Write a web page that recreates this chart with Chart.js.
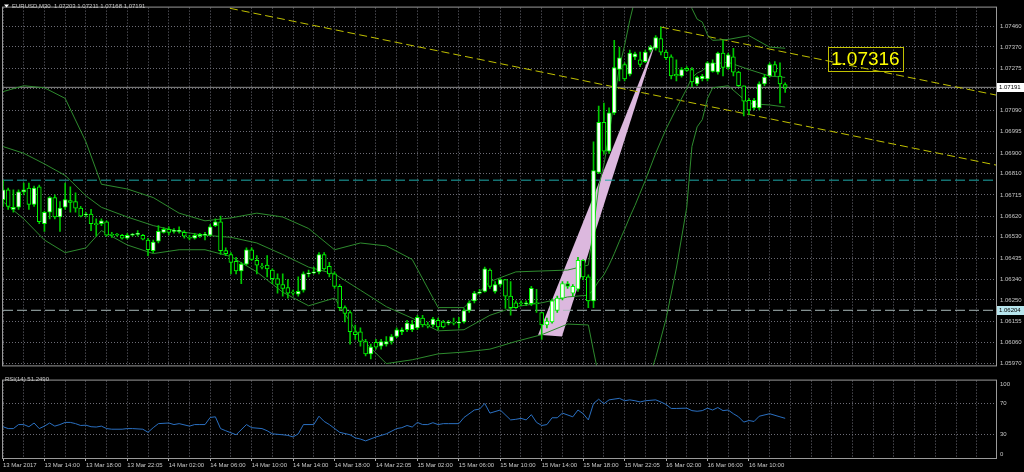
<!DOCTYPE html>
<html>
<head>
<meta charset="utf-8">
<script src="https://cdn.jsdelivr.net/npm/chart.js@4.4.0/dist/chart.umd.min.js"></script>
<style>
html, body { margin: 0; padding: 0; background: #000; }
#wrap { position: relative; width: 1024px; height: 472px; background: #000; overflow: hidden; }
canvas { position: absolute; left: 0; }
#main { top: 0; }
#rsi { top: 373px; }
</style>
</head>
<body>
<div id="wrap">
  <canvas id="main" width="1024" height="373"></canvas>
  <canvas id="rsi" width="1024" height="99"></canvas>
</div>
<script>
// EURUSD M30, bar 0 = 13 Mar 2017 10:00
const open = [
  1.06694,1.06737,1.06651,1.06660,1.06728,1.06745,1.06673,1.06750,1.06587,1.06638,
  1.06703,1.06617,1.06660,1.06690,1.06685,1.06656,1.06626,1.06630,1.06587,1.06587,
  1.06596,1.06540,1.06540,1.06536,1.06523,1.06536,1.06540,1.06536,1.06515,1.06468,
  1.06510,1.06549,1.06562,1.06553,1.06553,1.06549,1.06527,1.06523,1.06532,1.06536,
  1.06536,1.06579,1.06596,1.06468,1.06451,1.06421,1.06378,1.06408,1.06472,1.06425,
  1.06399,1.06404,1.06382,1.06344,1.06318,1.06305,1.06284,1.06275,1.06293,1.06365,
  1.06369,1.06374,1.06451,1.06399,1.06365,1.06310,1.06216,1.06194,1.06109,1.06109,
  1.06066,1.06011,1.06062,1.06045,1.06054,1.06066,1.06088,1.06109,1.06118,1.06118,
  1.06126,1.06169,1.06139,1.06139,1.06160,1.06152,1.06147,1.06152,1.06147,1.06152,
  1.06203,1.06246,1.06280,1.06288,1.06382,1.06288,1.06318,1.06340,1.06267,1.06237,
  1.06237,1.06233,1.06233,1.06237,1.06194,1.06139,1.06152,1.06203,1.06258,1.06322,
  1.06280,1.06297,1.06425,1.06352,1.06246,1.06814,1.07036,1.06908,1.07078,1.07270,
  1.07292,1.07249,1.07326,1.07313,1.07305,1.07356,1.07364,1.07407,1.07347,1.07326,
  1.07249,1.07241,1.07275,1.07270,1.07206,1.07228,1.07228,1.07262,1.07258,1.07343,
  1.07279,1.07326,1.07258,1.07198,1.07134,1.07100,1.07100,1.07206,1.07241,1.07292,
  1.07241,1.07203
];
const high = [
  1.06779,1.06745,1.06737,1.06737,1.06767,1.06767,1.06754,1.06758,1.06643,1.06707,
  1.06715,1.06685,1.06767,1.06750,1.06724,1.06664,1.06638,1.06651,1.06609,1.06609,
  1.06600,1.06549,1.06545,1.06540,1.06545,1.06545,1.06557,1.06540,1.06523,1.06515,
  1.06579,1.06570,1.06574,1.06566,1.06574,1.06557,1.06536,1.06545,1.06545,1.06549,
  1.06583,1.06609,1.06621,1.06480,1.06459,1.06438,1.06416,1.06480,1.06480,1.06446,
  1.06412,1.06446,1.06387,1.06365,1.06365,1.06340,1.06293,1.06352,1.06374,1.06382,
  1.06395,1.06459,1.06459,1.06416,1.06374,1.06318,1.06224,1.06203,1.06139,1.06126,
  1.06075,1.06054,1.06075,1.06075,1.06088,1.06096,1.06126,1.06126,1.06160,1.06160,
  1.06182,1.06182,1.06152,1.06173,1.06169,1.06160,1.06160,1.06169,1.06173,1.06212,
  1.06246,1.06288,1.06297,1.06395,1.06387,1.06331,1.06344,1.06340,1.06331,1.06246,
  1.06246,1.06246,1.06310,1.06297,1.06194,1.06169,1.06254,1.06267,1.06331,1.06331,
  1.06318,1.06438,1.06429,1.06361,1.06950,1.07108,1.07121,1.07100,1.07399,1.07369,
  1.07300,1.07356,1.07347,1.07347,1.07356,1.07377,1.07420,1.07458,1.07356,1.07335,
  1.07313,1.07279,1.07283,1.07279,1.07241,1.07249,1.07305,1.07313,1.07347,1.07399,
  1.07343,1.07364,1.07262,1.07198,1.07142,1.07142,1.07215,1.07249,1.07300,1.07305,
  1.07300,1.07211
];
const low = [
  1.06664,1.06651,1.06638,1.06651,1.06715,1.06651,1.06664,1.06587,1.06553,1.06609,
  1.06609,1.06553,1.06651,1.06638,1.06638,1.06617,1.06617,1.06557,1.06532,1.06579,
  1.06532,1.06527,1.06532,1.06519,1.06519,1.06532,1.06532,1.06515,1.06446,1.06459,
  1.06502,1.06545,1.06536,1.06545,1.06545,1.06523,1.06515,1.06519,1.06527,1.06515,
  1.06532,1.06574,1.06451,1.06446,1.06365,1.06365,1.06322,1.06404,1.06425,1.06365,
  1.06387,1.06352,1.06322,1.06280,1.06267,1.06258,1.06271,1.06267,1.06284,1.06352,
  1.06365,1.06365,1.06382,1.06352,1.06301,1.06203,1.06152,1.06054,1.06075,1.06045,
  1.06002,1.05989,1.06032,1.06032,1.06045,1.06054,1.06083,1.06096,1.06109,1.06109,
  1.06118,1.06130,1.06126,1.06130,1.06118,1.06126,1.06139,1.06139,1.06126,1.06147,
  1.06194,1.06237,1.06275,1.06284,1.06301,1.06280,1.06310,1.06212,1.06182,1.06212,
  1.06224,1.06224,1.06224,1.06194,1.06075,1.06126,1.06147,1.06194,1.06250,1.06301,
  1.06267,1.06288,1.06340,1.06216,1.06216,1.06809,1.06895,1.06899,1.07070,1.07219,
  1.07219,1.07241,1.07313,1.07283,1.07300,1.07347,1.07356,1.07335,1.07313,1.07228,
  1.07219,1.07236,1.07262,1.07194,1.07198,1.07219,1.07219,1.07258,1.07249,1.07241,
  1.07270,1.07241,1.07194,1.07065,1.07070,1.07091,1.07091,1.07198,1.07236,1.07241,
  1.07121,1.07168
];
const close = [
  1.06737,1.06664,1.06660,1.06728,1.06737,1.06673,1.06745,1.06596,1.06638,1.06703,
  1.06617,1.06656,1.06694,1.06681,1.06656,1.06621,1.06630,1.06587,1.06583,1.06600,
  1.06536,1.06536,1.06536,1.06523,1.06536,1.06540,1.06545,1.06519,1.06472,1.06506,
  1.06553,1.06562,1.06549,1.06557,1.06557,1.06532,1.06523,1.06536,1.06540,1.06540,
  1.06574,1.06596,1.06468,1.06455,1.06416,1.06378,1.06408,1.06472,1.06429,1.06404,
  1.06395,1.06387,1.06344,1.06318,1.06301,1.06280,1.06280,1.06288,1.06365,1.06369,
  1.06374,1.06451,1.06387,1.06365,1.06310,1.06216,1.06190,1.06109,1.06096,1.06066,
  1.06011,1.06041,1.06041,1.06066,1.06066,1.06088,1.06118,1.06118,1.06147,1.06143,
  1.06173,1.06139,1.06135,1.06165,1.06130,1.06130,1.06152,1.06147,1.06152,1.06203,
  1.06237,1.06280,1.06284,1.06387,1.06310,1.06318,1.06340,1.06267,1.06216,1.06216,
  1.06233,1.06237,1.06301,1.06233,1.06139,1.06156,1.06246,1.06258,1.06322,1.06310,
  1.06310,1.06425,1.06352,1.06246,1.06822,1.07036,1.06908,1.07078,1.07279,1.07322,
  1.07228,1.07343,1.07339,1.07292,1.07347,1.07369,1.07411,1.07347,1.07322,1.07241,
  1.07241,1.07270,1.07266,1.07215,1.07236,1.07241,1.07300,1.07300,1.07343,1.07279,
  1.07335,1.07258,1.07198,1.07130,1.07091,1.07134,1.07206,1.07236,1.07292,1.07258,
  1.07206,1.07191
];

// Bollinger bands (20, 2) at these bars
const bbBars = [0,4,8,12,16,19,24,29,34,39,44,49,54,59,64,69,74,79,84,89,94,99,104,109,113,
  114,115,116,117,118,119,120,121,122,124,126,128,130,132,133,134,135,136,137,140,144,148,151];
const bbUpper = [1.07172,1.07198,1.07189,1.07142,1.06950,1.06762,1.06741,1.06703,1.06634,1.06600,
  1.06613,1.06634,1.06617,1.06566,1.06472,1.06502,1.06489,1.06429,1.06216,1.06216,1.06331,1.06374,
  1.06378,1.06382,1.06404,1.06570,1.06750,1.06848,1.06980,1.07138,1.07279,1.07377,1.07488,1.07582,
  1.07706,1.07804,1.07847,1.07804,1.07710,1.07540,1.07493,1.07480,1.07424,1.07399,1.07403,1.07420,
  1.07369,1.07364];
const bbMiddle = [1.06929,1.06899,1.06852,1.06801,1.06711,1.06660,1.06617,1.06579,1.06553,1.06536,
  1.06527,1.06502,1.06451,1.06395,1.06365,1.06293,1.06220,1.06169,1.06113,1.06118,1.06182,1.06220,
  1.06237,1.06263,1.06271,1.06297,1.06333,1.06361,1.06404,1.06455,1.06510,1.06562,1.06617,1.06668,
  1.06779,1.06899,1.07006,1.07098,1.07185,1.07234,1.07254,1.07265,1.07284,1.07295,1.07302,1.07270,
  1.07241,1.07235];
const bbLower = [1.06685,1.06609,1.06515,1.06459,1.06480,1.06557,1.06493,1.06455,1.06472,1.06472,
  1.06442,1.06374,1.06284,1.06224,1.06258,1.06083,1.05968,1.05985,1.06011,1.06019,1.06032,1.06066,
  1.06096,1.06143,1.06139,1.06024,1.05913,1.05874,1.05827,1.05772,1.05742,1.05746,1.05746,1.05755,
  1.05853,1.05994,1.06165,1.06391,1.06660,1.06929,1.07016,1.07048,1.07142,1.07189,1.07198,1.07119,
  1.07113,1.07104];

// RSI(14)
const rsiBars = [0,1,2,3,4,5,6,7,8,9,10,11,12,13,14,15,16,17,18,19,20,21,23,24,25,27,28,29,30,32,33,34,
  36,37,38,39,40,41,42,43,45,47,48,50,51,52,54,55,56,57,58,60,61,62,63,65,67,68,69,70,72,73,74,76,77,
  78,79,80,81,82,83,84,85,86,88,89,91,92,93,94,96,98,99,100,101,102,103,104,105,106,107,108,110,111,
  112,113,114,115,116,117,119,120,121,122,123,124,126,127,128,129,130,132,133,134,135,136,137,138,139,
  140,141,142,143,144,145,146,148,150,151];
const rsiValues = [40.4,38.0,38.0,43.2,43.2,40.4,45.2,38.0,41.2,45.2,41.2,43.2,46.0,46.0,44.4,42.0,42.4,
  40.4,40.0,41.2,38.0,37.2,37.2,38.0,38.0,37.2,33.2,39.2,44.4,45.2,43.2,44.4,41.2,43.2,43.2,43.2,52.4,
  53.2,38.0,35.2,30.0,43.2,39.2,38.0,35.2,31.2,30.0,29.2,27.2,31.2,43.2,43.2,54.0,47.2,43.2,33.2,30.0,
  26.0,24.5,22.1,27.2,29.2,31.2,38.0,39.2,42.0,40.0,46.0,43.2,43.2,45.6,43.2,44.4,44.4,44.4,52.4,62.0,
  63.2,70.4,58.0,62.0,49.2,50.0,51.2,49.2,56.0,46.0,42.0,43.2,52.0,52.0,58.0,53.2,62.0,57.2,49.2,70.4,
  76.0,70.0,75.1,77.1,74.0,75.1,74.0,72.4,74.0,75.1,72.4,69.2,64.0,64.0,64.4,61.2,60.4,61.2,64.4,62.0,
  65.2,61.2,62.0,57.2,53.2,46.4,48.4,47.2,54.0,57.2,53.2,51.249];
const rsiTicks = [70, 30];

// axes
const timeLabels = ['13 Mar 2017','13 Mar 14:00','13 Mar 18:00','13 Mar 22:05','14 Mar 02:00',
  '14 Mar 06:00','14 Mar 10:00','14 Mar 14:00','14 Mar 18:00','14 Mar 22:05','15 Mar 02:00',
  '15 Mar 06:00','15 Mar 10:00','15 Mar 14:00','15 Mar 18:00','15 Mar 22:05','16 Mar 02:00',
  '16 Mar 06:00','16 Mar 10:00'];
const priceTicks = [1.07460,1.07370,1.07275,1.07185,1.07090,1.06995,1.06900,1.06810,1.06715,1.06620,
  1.06530,1.06435,1.06340,1.06250,1.06155,1.06060,1.05970];
const priceTickLabels = ['1.07460','1.07370','1.07275','','1.07090','1.06995','1.06900','1.06810',
  '1.06715','1.06620','1.06530','1.06435','1.06340','1.06250','1.06155','1.06060','1.05970'];

// objects on the chart
const trendABars = [43.8, 191.7], trendAPrices = [1.07541, 1.06847];
const trendBBars = [127, 191.7], trendBPrices = [1.07458, 1.07157];
const triBars = [103.3, 107.9, 126.4], triPrices = [1.06096, 1.06088, 1.07420];
const cyanLevel = 1.06780, greyLevel = 1.06204;
const boxBar = 159.3, boxPrice = 1.07316;

const xMin = 0, xMax = 191.7;
const yMin = 1.05960, yMax = 1.07544;

Chart.defaults.font.family = '"Liberation Sans", Arial, sans-serif';
Chart.defaults.font.size = 6;
Chart.defaults.color = '#c8c8c8';

const GRID = '#6c6c76';
const FRAME = '#9a9a9a';
const BAND = '#2e8b2e';
const YELLOW = '#c0c000';

const last = close.length - 1;
const bidPrice = close[last];
const bars = close.map((_, i) => i);
const bodies = bars.map(i => ({x: i, y: [open[i], close[i]]}));
const wicks = bars.map(i => ({x: i, y: [low[i], high[i]]}));
const bodyFill = bars.map(i => close[i] >= open[i] ? '#ffffff' : '#000000');

function series(xs, ys) { return xs.map((b, k) => ({x: b, y: ys[k]})); }
function hline(level) { return [{x: xMin, y: level}, {x: xMax, y: level}]; }
function lineDs(data, color, dash) {
    return {type: 'line', data: data, borderColor: color, borderWidth: 1, borderDash: dash || [],
        pointRadius: 0, fill: false, tension: 0};
}
function barTicks(scale) {
    const t = [];
    for (let b = 0; b <= xMax; b += 4) t.push({value: b});
    scale.ticks = t;
}

const markers = [
    {price: bidPrice, bg: '#ffffff'},
    {price: greyLevel, bg: '#b8e6ee'}
];

const mainDecor = {
    id: 'mainDecor',
    beforeDatasetsDraw(chart) {
        const {ctx, chartArea: a, scales: {x, y}} = chart;
        ctx.save();
        ctx.beginPath();
        ctx.rect(a.left, a.top, a.right - a.left, a.bottom - a.top);
        ctx.clip();
        ctx.beginPath();
        triBars.forEach((b, k) => {
            const px = x.getPixelForValue(b), py = y.getPixelForValue(triPrices[k]);
            if (k) ctx.lineTo(px, py); else ctx.moveTo(px, py);
        });
        ctx.closePath();
        ctx.fillStyle = 'rgb(220,184,222)';
        ctx.fill();
        ctx.restore();
    },
    afterDraw(chart) {
        const {ctx, chartArea: a, scales: {x, y}} = chart;
        ctx.save();
        ctx.strokeStyle = FRAME;
        ctx.lineWidth = 1;
        ctx.strokeRect(a.left - 0.5, a.top - 0.5, a.right - a.left + 1, a.bottom - a.top + 1);

        ctx.font = '6px "Liberation Sans", Arial, sans-serif';
        ctx.textBaseline = 'middle';
        markers.forEach(m => {
            const py = Math.round(y.getPixelForValue(m.price));
            ctx.fillStyle = m.bg;
            ctx.fillRect(a.right + 1, py - 4, chart.width - a.right - 1, 9);
            ctx.fillStyle = '#000000';
            ctx.fillText(m.price.toFixed(5), a.right + 3, py + 0.5);
        });

        // header
        ctx.fillStyle = '#ffffff';
        ctx.beginPath();
        ctx.moveTo(4, 4.5); ctx.lineTo(9, 4.5); ctx.lineTo(6.5, 7.5); ctx.closePath();
        ctx.fill();
        const header = 'EURUSD,M30  ' + [open[last], high[last], low[last], close[last]].map(v => v.toFixed(5)).join(' ');
        ctx.fillStyle = '#c8c8c8';
        ctx.fillText(header, 12, 6.5);

        // price label on the channel line
        const bx = Math.round(x.getPixelForValue(boxBar));
        const by = Math.round(y.getPixelForValue(boxPrice));
        ctx.font = '19px "Liberation Sans", Arial, sans-serif';
        const label = boxPrice.toFixed(5);
        const w = Math.round(ctx.measureText(label).width) + 6;
        ctx.strokeStyle = YELLOW;
        ctx.strokeRect(bx + 0.5, by - 12 + 0.5, w, 24);
        ctx.fillStyle = '#ffff00';
        ctx.fillText(label, bx + 3, by + 1);
        ctx.restore();
    }
};

const rsiDecor = {
    id: 'rsiDecor',
    afterDraw(chart) {
        const {ctx, chartArea: a, scales: {y}} = chart;
        ctx.save();
        ctx.strokeStyle = FRAME;
        ctx.lineWidth = 1;
        ctx.strokeRect(a.left - 0.5, a.top - 0.5, a.right - a.left + 1, a.bottom - a.top + 1);
        ctx.font = '6px "Liberation Sans", Arial, sans-serif';
        ctx.textBaseline = 'middle';
        ctx.fillStyle = '#c8c8c8';
        ctx.fillText('RSI(14) ' + rsiValues[rsiValues.length - 1].toFixed(4), 5, 6.5);
        ctx.fillText('100', a.right + 4, y.getPixelForValue(100) + 3.5);
        ctx.fillText('0', a.right + 4, y.getPixelForValue(0) - 3.5);
        ctx.restore();
    }
};

new Chart(document.getElementById('main'), {
    type: 'bar',
    data: {
        datasets: [
            {type: 'bar', data: bodies, backgroundColor: bodyFill, borderColor: '#00ff00', borderWidth: 1,
                borderSkipped: false, barThickness: 4, minBarLength: 1, grouped: false},
            {type: 'bar', data: wicks, backgroundColor: '#00c800', borderWidth: 0, barThickness: 1, grouped: false},
            lineDs(series(bbBars, bbUpper), BAND),
            lineDs(series(bbBars, bbMiddle), BAND),
            lineDs(series(bbBars, bbLower), BAND),
            lineDs(series(trendABars, trendAPrices), YELLOW, [8, 4]),
            lineDs(series(trendBBars, trendBPrices), YELLOW, [8, 4]),
            lineDs(hline(bidPrice), '#8c8c8c'),
            lineDs(hline(greyLevel), '#a8b8b8', [10, 4]),
            lineDs(hline(cyanLevel), '#1ea8a8', [10, 4])
        ]
    },
    options: {
        responsive: false,
        animation: false,
        devicePixelRatio: 1,
        layout: {padding: {left: 3, top: 1, right: 0, bottom: 1}},
        plugins: {legend: {display: false}, tooltip: {enabled: false}},
        scales: {
            x: {
                type: 'linear', min: xMin, max: xMax, offset: false,
                afterBuildTicks: barTicks,
                afterFit: s => { s.height = 0; },
                ticks: {display: false},
                grid: {color: GRID, drawTicks: false, offset: false},
                border: {display: false, dash: [1, 2]}
            },
            y: {
                position: 'right', min: yMin, max: yMax, beginAtZero: false,
                afterBuildTicks: s => { s.ticks = priceTicks.map(v => ({value: v})); },
                afterFit: s => { s.width = 28; },
                ticks: {padding: 4, autoSkip: false, callback: (v, i) => priceTickLabels[i]},
                grid: {color: GRID, drawTicks: false},
                border: {display: false, dash: [1, 2]}
            }
        }
    },
    plugins: [mainDecor]
});

new Chart(document.getElementById('rsi'), {
    type: 'line',
    data: {
        datasets: [
            {data: series(rsiBars, rsiValues), borderColor: '#2a6fc0', borderWidth: 1, pointRadius: 0, tension: 0, fill: false}
        ]
    },
    options: {
        responsive: false,
        animation: false,
        devicePixelRatio: 1,
        layout: {padding: {left: 3, top: 1, right: 0, bottom: 0}},
        plugins: {legend: {display: false}, tooltip: {enabled: false}},
        scales: {
            x: {
                type: 'linear', min: xMin, max: xMax, offset: false,
                afterBuildTicks: barTicks,
                afterFit: s => { s.height = 14; },
                ticks: {
                    autoSkip: false, maxRotation: 0, align: 'start', padding: 1,
                    callback: v => (v % 8 === 0 && timeLabels[v / 8]) ? timeLabels[v / 8] : ''
                },
                grid: {
                    color: GRID, tickLength: 3,
                    tickColor: c => (c.tick && c.tick.value % 8 === 0 && timeLabels[c.tick.value / 8]) ? '#b0b0b0' : 'rgba(0,0,0,0)'
                },
                border: {display: false, dash: [1, 2]}
            },
            y: {
                position: 'right', min: 0, max: 100,
                afterBuildTicks: s => { s.ticks = rsiTicks.map(v => ({value: v})); },
                afterFit: s => { s.width = 28; },
                ticks: {padding: 4},
                grid: {color: GRID, drawTicks: false},
                border: {display: false, dash: [1, 2]}
            }
        }
    },
    plugins: [rsiDecor]
});
</script>
</body>
</html>
